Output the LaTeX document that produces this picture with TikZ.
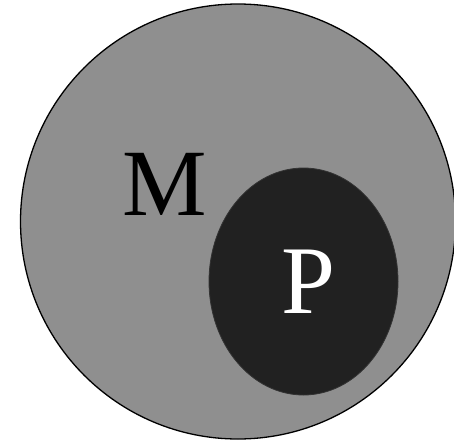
\documentclass[tikz,border=0pt]{standalone}
\usepackage{fontspec}
\setmainfont{Liberation Serif}
\definecolor{outergray}{gray}{0.56}
\definecolor{innerdark}{gray}{0.13}
\begin{document}
\begin{tikzpicture}[x=1pt,y=-1pt,
  setM/.style={draw=black,line width=1.3pt,fill=outergray},
  setP/.style={draw=black!80,line width=0.8pt,fill=innerdark},
  lab/.style={inner sep=0pt}]
\useasboundingbox (0,0) rectangle (454,447);
\fill[white] (0,0) rectangle (454,447);
\begin{scope}
\clip (0,0) rectangle (454,447);
\draw[setM] (238,221.5) circle [radius=217.5];
\end{scope}
\coordinate (Mc) at (238,221.5);
\draw[setP] (303.5,281.5) ellipse [x radius=94.5, y radius=113.5];
\coordinate (Pc) at (303.5,281.5);
\node[lab,text=black,anchor=base,font=\fontsize{95}{95}\selectfont] (M) at (164.5,215) {M};
\node[lab,text=white,anchor=base,font=\fontsize{97}{97}\selectfont] (P) at (308.5,313) {P};
\end{tikzpicture}
\end{document}
